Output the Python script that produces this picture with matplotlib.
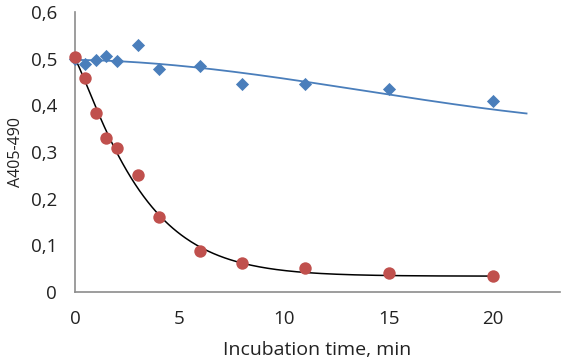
import numpy as np
import matplotlib
matplotlib.use("Agg")
import matplotlib.pyplot as plt
from matplotlib.ticker import FuncFormatter

# ── Data ───────────────────────────────────────────────────────────────────
time_blue = [0, 0.5, 1, 1.5, 2, 3, 4, 6, 8, 11, 15, 20]
abs_blue  = [0.50, 0.488, 0.497, 0.507, 0.495, 0.529, 0.478, 0.484, 0.445, 0.445, 0.435, 0.409]

time_red = [0, 0.5, 1, 1.5, 2, 3, 4, 6, 8, 11, 15, 20]
abs_red  = [0.503, 0.458, 0.383, 0.330, 0.308, 0.250, 0.161, 0.088, 0.062, 0.051, 0.041, 0.034]

# trend lines as drawn in the reference (read at a few x positions)
trend_blue_x = [0, 2, 4, 6, 11, 15, 20, 21.6]
trend_blue_y = [0.497, 0.495, 0.490, 0.482, 0.447, 0.426, 0.392, 0.382]

trend_red_x = [0, 0.5, 1, 1.5, 2, 3, 4, 6, 8, 10, 12, 15, 17.5, 20]
trend_red_y = [0.503, 0.455, 0.385, 0.335, 0.305, 0.235, 0.165, 0.090, 0.058,
               0.043, 0.040, 0.040, 0.039, 0.034]

x_ticks = [0, 5, 10, 15, 20]
y_ticks = [0, 0.1, 0.2, 0.3, 0.4, 0.5, 0.6]

BLUE  = "#4a7ebb"
RED   = "#c0504d"
SPINE = "#8c8c8c"
TEXT  = "#222222"

plt.rcParams["font.family"] = ["Open Sans", "DejaVu Sans"]

# ── Trend lines ────────────────────────────────────────────────────────────
coef = np.polyfit(trend_blue_x, trend_blue_y, 3)
xb = np.linspace(trend_blue_x[0], trend_blue_x[-1], 200)
yb = np.polyval(coef, xb)

# red: stretched-exponential decay to a plateau, y = c + A*exp(-(k t)^n)
tr = np.array(trend_red_x)
ar = np.array(trend_red_y)
best = None
for n in np.linspace(0.8, 1.8, 51):
    for k in np.linspace(0.1, 0.8, 141):
        M = np.column_stack([np.ones_like(tr), np.exp(-(k * tr) ** n)])
        sol = np.linalg.lstsq(M, ar, rcond=None)[0]
        err = np.sum((M @ sol - ar) ** 2)
        if best is None or err < best[0]:
            best = (err, k, n, sol)
_, k_fit, n_fit, (c_fit, a_fit) = best
xr = np.linspace(0, 20, 300)
yr = c_fit + a_fit * np.exp(-(k_fit * xr) ** n_fit)

# ── Chart ──────────────────────────────────────────────────────────────────
fig = plt.figure(figsize=(5.61, 3.62), dpi=100)
ax = fig.add_axes([0.1337, 0.193, 0.8645, 0.7735])

ax.plot(xb, yb, color=BLUE, linewidth=1.3, zorder=2, clip_on=False)
ax.plot(xr, yr, color="black", linewidth=1.1, zorder=2)
ax.scatter(time_blue, abs_blue, marker="D", s=45, color=BLUE, linewidths=0,
           zorder=3, clip_on=False)
ax.scatter(time_red, abs_red, marker="o", s=80, color=RED, linewidths=0,
           zorder=4, clip_on=False)

ax.set_xlim(0, 23.2)
ax.set_ylim(0, 0.6)
ax.set_xticks(x_ticks)
ax.set_yticks(y_ticks)
ax.yaxis.set_major_formatter(FuncFormatter(
    lambda v, _: "0" if v == 0 else f"{v:.1f}".replace(".", ",")))
ax.tick_params(length=0, labelsize=13.5, colors=TEXT)
ax.tick_params(axis="x", pad=13)
ax.tick_params(axis="y", pad=13)

for side in ("top", "right"):
    ax.spines[side].set_visible(False)
for side in ("left", "bottom"):
    ax.spines[side].set_color(SPINE)
    ax.spines[side].set_linewidth(1.2)

ax.set_xlabel("Incubation time, min", fontsize=14, color=TEXT, labelpad=9)
ax.set_ylabel("A405-490", fontsize=11.5, color=TEXT, labelpad=5)

fig.savefig("out.png", dpi=100)
